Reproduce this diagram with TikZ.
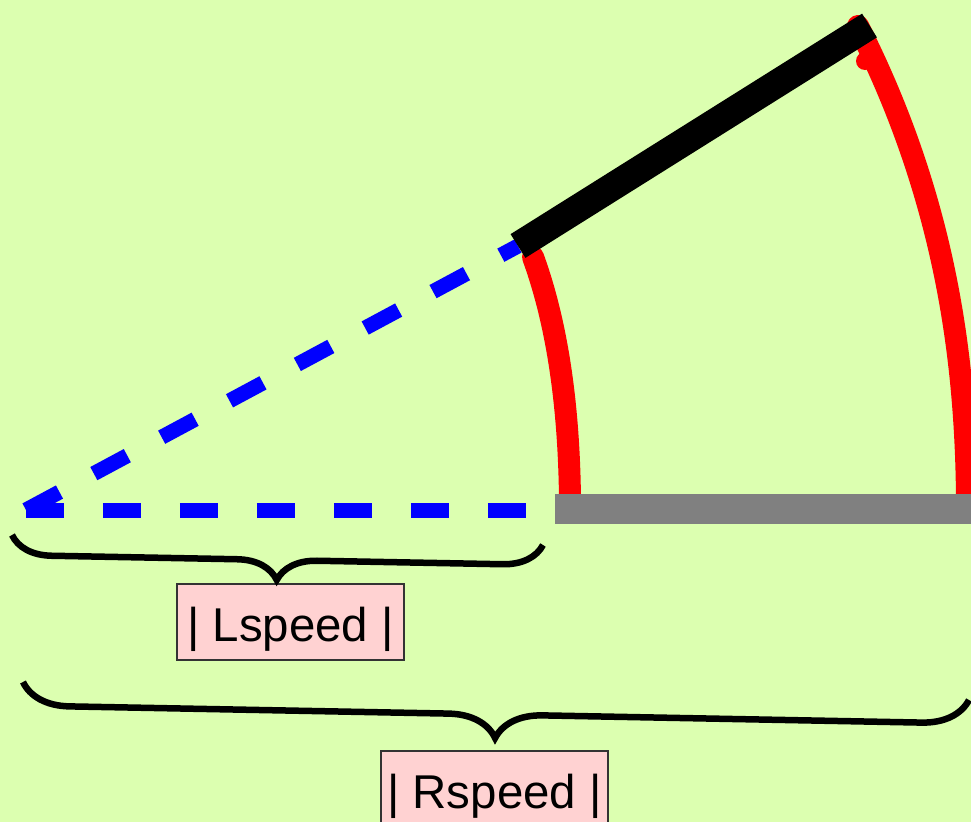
\documentclass[tikz,border=0pt]{standalone}
\usepackage{fontspec}
\setmainfont{Liberation Sans}
\usetikzlibrary{decorations.pathreplacing}
\definecolor{wheelbg}{HTML}{DCFFB0}
\definecolor{wheelbox}{HTML}{FFD2D2}
\definecolor{wheelaxle}{HTML}{808080}

\begin{document}
\begin{tikzpicture}[
        x=0.02cm,y=-0.02cm,
        spoke/.style={blue,line width=0.3cm,dash pattern=on 0.76cm off 0.78cm},
        wheeltrack/.style={red,line width=0.44cm,line cap=round},
        axle/.style={wheelaxle,line width=0.6cm},
        wheelbar/.style={black,line width=0.56cm},
        speedbrace/.style={decorate,line width=0.13cm},
        speedbox/.style={
            draw=black!80,
            line width=0.6pt,
            fill=wheelbox,
            inner sep=0pt,
            minimum width=4.54cm,
            minimum height=1.52cm,
            text height=0.76cm,
            text depth=0cm,
            font=\fontsize{27pt}{32pt}\selectfont
        }
    ]
        \fill[wheelbg] (0,0) rectangle (971,822);
        \useasboundingbox (0,0) rectangle (971,822);

        \coordinate (pivot) at (26,510);
        \coordinate (innerend) at (526,510);
        \coordinate (bar a) at (518,246);
        \coordinate (bar b) at (869.5,25.5);

        \draw[spoke] (pivot) -- (innerend);
        \draw[spoke] (pivot) -- (bar a);

        \draw[wheeltrack] (570,500) .. controls (569,400) and (556,320) .. (533,257);
        \draw[wheeltrack] (967,500) .. controls (966,360) and (946,200) .. (858,26);
        \fill[red] (865,61) circle[radius=0.18cm];

        \draw[axle] (555,509) -- (980,509);
        \draw[wheelbar] (bar a) -- (bar b);

        \node[speedbox] (lspeed) at (290.5,622) {| Lspeed |};
        \node[speedbox] (rspeed) at (494.5,789) {| Rspeed |};

        \draw[speedbrace,decoration={brace,mirror,amplitude=0.8cm}] (12,535) -- (543,545);
        \draw[speedbrace,decoration={brace,mirror,amplitude=0.94cm}] (23,682) -- (969,700);
    \end{tikzpicture}
\end{document}
